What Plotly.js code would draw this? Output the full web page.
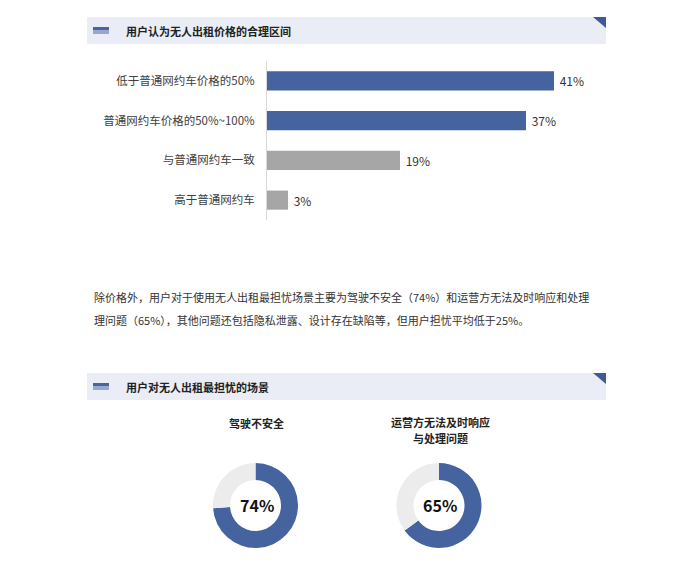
<!DOCTYPE html>
<html>
<head>
<meta charset="utf-8">
<script src="https://cdn.plot.ly/plotly-3.0.1.min.js"></script>
<style>
  html, body { margin: 0; padding: 0; background: #fff; }
  #chart { width: 691px; height: 570px; }
</style>
</head>
<body>
<div id="chart"></div>
<script>
// section 1: acceptable price range
const priceLabels = ['低于普通网约车价格的50%', '普通网约车价格的50%~100%', '与普通网约车一致', '高于普通网约车'];
const priceShares = [41, 37, 19, 3];
const priceColors = ['#44639f', '#44639f', '#a6a6a6', '#a6a6a6'];

// section 2: biggest worries
const worryTitles = [['驾驶不安全'], ['运营方无法及时响应', '与处理问题']];
const worryShares = [74, 65];
const worryRest = [26, 35];

const sectionTitles = ['用户认为无人出租价格的合理区间', '用户对无人出租最担忧的场景'];
const noteLines = [
  '除价格外，用户对于使用无人出租最担忧场景主要为驾驶不安全（74%）和运营方无法及时响应和处理',
  '理问题（65%），其他问题还包括隐私泄露、设计存在缺陷等，但用户担忧平均低于25%。'
];

const W = 691, H = 570;
const FONT = '"Noto Sans CJK SC", "Noto Sans", sans-serif';
const BLUE = '#44639f';
function px(x) { return x / W; }
function py(y) { return 1 - y / H; }

const shapes = [];
const annotations = [];

function header(top, title) {
  shapes.push({type: 'rect', xref: 'paper', yref: 'paper', layer: 'below',
    x0: px(87), x1: px(606), y0: py(top + 27), y1: py(top),
    fillcolor: '#eaedf5', line: {width: 0}});
  // little striped icon
  shapes.push({type: 'rect', xref: 'paper', yref: 'paper',
    x0: px(93), x1: px(109), y0: py(top + 13.5), y1: py(top + 10),
    fillcolor: '#4a64a0', line: {width: 0}});
  shapes.push({type: 'rect', xref: 'paper', yref: 'paper',
    x0: px(93), x1: px(109), y0: py(top + 17), y1: py(top + 13.5),
    fillcolor: '#97a7cd', line: {width: 0}});
  // corner triangle
  shapes.push({type: 'path', xref: 'paper', yref: 'paper',
    path: 'M ' + px(593) + ' ' + py(top) + ' L ' + px(606) + ' ' + py(top) +
          ' L ' + px(606) + ' ' + py(top + 11) + ' Z',
    fillcolor: '#3f5a99', line: {width: 0}});
  annotations.push({xref: 'paper', yref: 'paper', x: px(124), y: py(top + 13.5),
    xanchor: 'left', yanchor: 'middle', showarrow: false,
    text: '<b>' + title + '</b>', font: {size: 11, color: '#222', family: FONT}});
}

header(17, sectionTitles[0]);
header(373, sectionTitles[1]);

annotations.push({xref: 'paper', yref: 'paper', x: px(92), y: py(297),
  xanchor: 'left', yanchor: 'middle', showarrow: false,
  text: noteLines[0], font: {size: 11, color: '#333', family: FONT}});
annotations.push({xref: 'paper', yref: 'paper', x: px(92), y: py(320),
  xanchor: 'left', yanchor: 'middle', showarrow: false,
  text: noteLines[1], font: {size: 11, color: '#333', family: FONT}});

const data = [{
  type: 'bar',
  orientation: 'h',
  y: priceLabels,
  x: priceShares,
  width: 0.48,
  marker: {color: priceColors},
  text: priceShares.map(v => '\u00a0' + v + '%'),
  textposition: 'outside',
  constraintext: 'none',
  cliponaxis: false,
  textfont: {size: 12, color: '#333', family: FONT},
  hoverinfo: 'skip',
  showlegend: false,
}];

// donuts
const donutX = [255.5, 439];
const donutY = 505.5, R = 42.5;
worryShares.forEach((v, i) => {
  const cx = donutX[i];
  data.push({
    type: 'pie',
    values: [v, worryRest[i]],
    hole: 0.6,
    sort: false,
    direction: 'clockwise',
    rotation: 0,
    textinfo: 'none',
    hoverinfo: 'skip',
    showlegend: false,
    marker: {colors: [BLUE, '#ececec'], line: {width: 0}},
    domain: {x: [px(cx - R), px(cx + R)], y: [py(donutY + R), py(donutY - R)]},
  });
  annotations.push({xref: 'paper', yref: 'paper', x: px(cx + 1), y: py(donutY - 1),
    xanchor: 'center', yanchor: 'middle', showarrow: false,
    text: '<b>' + v + '%</b>', font: {size: 16, color: '#111', family: FONT}});
  const lines = worryTitles[i];
  const top = lines.length > 1 ? 421.5 : 423;
  lines.forEach((t, j) => {
    annotations.push({xref: 'paper', yref: 'paper', x: px(cx + 1), y: py(top + j * 16),
      xanchor: 'center', yanchor: 'middle', showarrow: false,
      text: '<b>' + t + '</b>', font: {size: 11, color: '#222', family: FONT}});
  });
});

const layout = {
  width: W,
  height: H,
  margin: {l: 0, r: 0, t: 0, b: 0},
  paper_bgcolor: '#fff',
  plot_bgcolor: 'rgba(0,0,0,0)',
  font: {family: FONT},
  showlegend: false,
  xaxis: {
    domain: [px(267), px(606)],
    range: [0, 339 / 7],
    showgrid: false,
    zeroline: false,
    showticklabels: false,
    fixedrange: true,
  },
  yaxis: {
    domain: [py(220), py(61)],
    autorange: 'reversed',
    showline: true,
    linecolor: '#d9d9d9',
    linewidth: 1,
    ticks: 'outside',
    ticklen: 9,
    tickcolor: 'rgba(0,0,0,0)',
    tickfont: {size: 11.5, color: '#404040', family: FONT},
    showgrid: false,
    zeroline: false,
    fixedrange: true,
  },
  shapes: shapes,
  annotations: annotations,
};

Plotly.newPlot('chart', data, layout, {displayModeBar: false, staticPlot: true});
</script>
</body>
</html>
